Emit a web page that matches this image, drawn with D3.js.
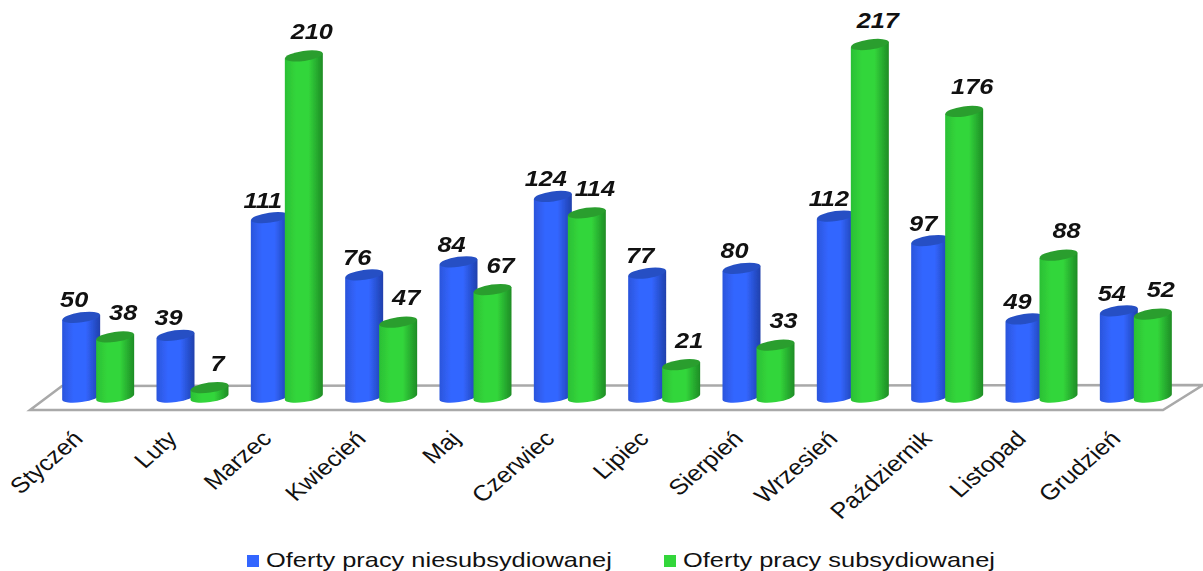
<!DOCTYPE html>
<html>
<head>
<meta charset="utf-8">
<style>
  html, body { margin: 0; padding: 0; background: #fff; }
  svg { display: block; }
  text { font-family: "Liberation Sans", Arial, sans-serif; fill: #111; }
</style>
<script src="https://cdn.jsdelivr.net/npm/d3@7"></script>
</head>
<body>
<svg id="chart" width="1203" height="571"></svg>
<script>
var months = ['Styczeń', 'Luty', 'Marzec', 'Kwiecień', 'Maj', 'Czerwiec', 'Lipiec', 'Sierpień', 'Wrzesień', 'Październik', 'Listopad', 'Grudzień'];
var seriesNames = ['Oferty pracy niesubsydiowanej', 'Oferty pracy subsydiowanej'];
var unsubsidised = [50, 39, 111, 76, 84, 124, 77, 80, 112, 97, 49, 54];
var subsidised = [38, 7, 210, 47, 67, 114, 21, 33, 217, 176, 88, 52];

var barWidth = 38;
var ry = 5;
var tilt = -8;
var baseInset = 2; // cylinder feet sit a bit above the zero line

var svg = d3.select('#chart');
var xScale = d3.scaleBand().domain(months).range([51, 1183]);
var xInner = d3.scaleBand().domain(d3.range(2)).range([-34, 34]);
var yScale = d3.scaleLinear().domain([0, 217]).range([399, 44.5]);

var looks = [
  {left: '#2b55dc', mid: '#3366ff', right: '#1f40ac', top: '#2650c4', dx: -7, dy: -10},
  {left: '#2bc035', mid: '#33d63b', right: '#1e8c26', top: '#2a9e2e', dx: 8, dy: -17}
];

// Cylinder shading
var defs = svg.append('defs');
looks.forEach(function(look, index) {
  var grad = defs.append('linearGradient').attr('id', 'cyl-' + index);
  grad.append('stop').attr('offset', '0%').attr('stop-color', look.left);
  grad.append('stop').attr('offset', '30%').attr('stop-color', look.mid);
  grad.append('stop').attr('offset', '62%').attr('stop-color', look.mid);
  grad.append('stop').attr('offset', '100%').attr('stop-color', look.right);
});
defs.append('filter').attr('id', 'soft')
  .append('feGaussianBlur').attr('stdDeviation', 0.5);

// Floor of the 3D plot
var floor = [[30, 410], [62, 386], [1203, 385], [1163, 410]];
svg.append('path')
  .attr('d', d3.line()(floor) + 'Z')
  .attr('fill', '#fff')
  .attr('stroke', '#a9a9a9')
  .attr('stroke-width', 2.5)
  .attr('filter', 'url(#soft)');

// Month labels, the source picture is stretched sideways
var xAxis = d3.axisBottom(xScale).tickSize(0).tickPadding(0);
var axisG = svg.append('g')
  .attr('class', 'x-axis')
  .attr('transform', 'translate(0,417)')
  .call(xAxis);
axisG.select('.domain').remove();
axisG.selectAll('text')
  .attr('y', 0)
  .attr('dy', 0)
  .attr('text-anchor', 'end')
  .attr('transform', 'translate(-14,23) scale(1.15,1) rotate(-45)')
  .style('font-family', '"Liberation Sans", Arial, sans-serif')
  .style('font-size', '22px')
  .attr('fill', '#1a1a1a');

function barPath(cx, yTop, yBottom) {
  var rad = tilt * Math.PI / 180;
  var hw = barWidth / 2;
  var lift = Math.sin(rad) * hw;
  return 'M' + (cx - hw) + ',' + (yTop - lift)
    + 'L' + (cx - hw) + ',' + (yBottom - lift)
    + 'A' + hw + ',' + ry + ' ' + tilt + ' 0 0 ' + (cx + hw) + ',' + (yBottom + lift)
    + 'L' + (cx + hw) + ',' + (yTop + lift)
    + 'Z';
}

function barCenter(month, s) {
  return xScale(month) + xScale.bandwidth() / 2 + xInner(s) + xInner.bandwidth() / 2;
}

var bars = svg.append('g').attr('filter', 'url(#soft)');
months.forEach(function(month, i) {
  [unsubsidised[i], subsidised[i]].forEach(function(value, s) {
    var cx = barCenter(month, s);
    var yTop = yScale(value);
    bars.append('path')
      .attr('d', barPath(cx, yTop, yScale(0) - baseInset))
      .attr('fill', 'url(#cyl-' + s + ')');
    bars.append('ellipse')
      .attr('rx', barWidth / 2)
      .attr('ry', ry)
      .attr('transform', 'translate(' + cx + ',' + yTop + ') rotate(' + tilt + ')')
      .attr('fill', looks[s].top);
  });
});

// Value labels go on top of all the bars
months.forEach(function(month, i) {
  [unsubsidised[i], subsidised[i]].forEach(function(value, s) {
    var cx = barCenter(month, s) + looks[s].dx;
    svg.append('text')
      .attr('transform', 'translate(' + cx + ',' + (yScale(value) + looks[s].dy) + ') scale(1.15,1)')
      .attr('text-anchor', 'middle')
      .style('font-size', '22px')
      .style('font-weight', 'bold')
      .style('font-style', 'italic')
      .text(value);
  });
});

// Legend
var legendX = [247, 664];
seriesNames.forEach(function(name, s) {
  svg.append('rect')
    .attr('x', legendX[s])
    .attr('y', 555)
    .attr('width', 12)
    .attr('height', 12)
    .attr('fill', looks[s].mid);
  svg.append('text')
    .attr('transform', 'translate(' + (legendX[s] + 19) + ',566.5) scale(1.21,1)')
    .style('font-size', '21px')
    .text(name);
});
</script>
</body>
</html>
